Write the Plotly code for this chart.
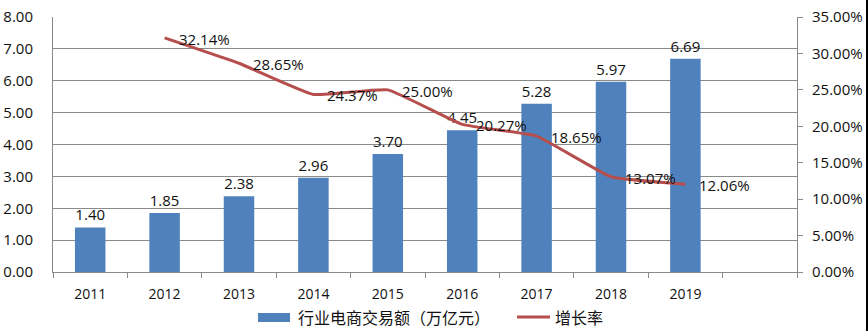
import plotly.graph_objects as go

# Yearly e-commerce transaction volume (trillion yuan) and growth rate (%)
years = ["2011", "2012", "2013", "2014", "2015", "2016", "2017", "2018", "2019"]
volume = [1.40, 1.85, 2.38, 2.96, 3.70, 4.45, 5.28, 5.97, 6.69]
growth_years = ["2012", "2013", "2014", "2015", "2016", "2017", "2018", "2019"]
growth = [32.14, 28.65, 24.37, 25.00, 20.27, 18.65, 13.07, 12.06]
axis_categories = years + [" "]

left_ticks = [0, 1, 2, 3, 4, 5, 6, 7, 8]
right_ticks = [0, 5, 10, 15, 20, 25, 30, 35]

bar_name = "行业电商交易额（万亿元）"
line_name = "增长率"

FONT = "Open Sans, Noto Sans CJK SC, sans-serif"
CJK = "Noto Sans CJK SC, sans-serif"
GRID = "#8a8a8a"
BAR_COLOR = "#4F81BD"
LINE_COLOR = "#B54E4C"

W, H = 868, 331
ML, MR, MT, MB = 53, 71, 17, 59
PW, PH = W - ML - MR, H - MT - MB


def px_x(x):
    return (x - ML) / PW


def px_y(y):
    return (H - MB - y) / PH


fig = go.Figure()

fig.add_trace(go.Bar(
    x=years, y=volume,
    name=bar_name,
    marker=dict(color=BAR_COLOR, line=dict(width=0)),
    width=0.41,
    text=[f"{v:.2f}" for v in volume],
    textposition="outside",
    textfont=dict(size=15, color="#111111", family=FONT),
    cliponaxis=False,
    showlegend=False,
))

fig.add_trace(go.Scatter(
    x=growth_years, y=growth,
    name=line_name,
    yaxis="y2",
    mode="lines",
    line=dict(color=LINE_COLOR, width=3, shape="spline", smoothing=0.35),
    cliponaxis=False,
    showlegend=False,
))

# growth-rate labels sit to the right of each point (x given as category index)
for yr, g in zip(growth_years, growth):
    fig.add_annotation(
        x=axis_categories.index(yr), y=g, xref="x", yref="y2",
        text=f"{g:.2f}%", showarrow=False,
        xanchor="left", yanchor="middle", xshift=12, yshift=-1,
        font=dict(size=15, color="#111111", family=FONT),
    )

fig.update_layout(
    width=W, height=H,
    margin=dict(l=ML, r=MR, t=MT, b=MB, autoexpand=False),
    paper_bgcolor="white",
    plot_bgcolor="white",
    font=dict(family=FONT, color="#111111"),
    showlegend=False,
    xaxis=dict(
        type="category",
        categoryorder="array",
        categoryarray=axis_categories,
        range=[-0.5, 9.5],
        tickson="boundaries",
        ticks="outside",
        ticklen=5,
        tickcolor=GRID,
        ticklabelstandoff=9,
        showline=True,
        linecolor=GRID,
        linewidth=1,
        showgrid=False,
        tickfont=dict(size=14, family=FONT, color="#111111"),
        fixedrange=True,
    ),
    yaxis=dict(
        range=[0, 8],
        tickvals=left_ticks,
        ticktext=[f"{v:.2f}" for v in left_ticks],
        showgrid=True,
        gridcolor=GRID,
        gridwidth=1,
        showline=True,
        linecolor=GRID,
        linewidth=1,
        zeroline=False,
        ticks="",
        ticklabelstandoff=16,
        tickfont=dict(size=15, family=FONT, color="#111111"),
        fixedrange=True,
    ),
    yaxis2=dict(
        overlaying="y",
        side="right",
        range=[0, 35],
        tickvals=right_ticks,
        ticktext=[f"{v:.2f}%" for v in right_ticks],
        showgrid=False,
        showline=True,
        linecolor=GRID,
        linewidth=1,
        zeroline=False,
        ticks="outside",
        ticklen=5,
        tickcolor=GRID,
        ticklabelstandoff=6,
        tickfont=dict(size=15, family=FONT, color="#111111"),
        fixedrange=True,
    ),
)

# legend drawn below the plot: wide bar swatch and line swatch
fig.add_shape(type="rect", xref="paper", yref="paper",
              x0=px_x(258), x1=px_x(290), y0=px_y(322), y1=px_y(313),
              fillcolor=BAR_COLOR, line=dict(width=0))
fig.add_annotation(xref="paper", yref="paper", x=px_x(296), y=px_y(317),
                   text=bar_name, showarrow=False, xanchor="left", yanchor="middle",
                   font=dict(size=16, family=CJK, color="#111111"))
fig.add_shape(type="line", xref="paper", yref="paper",
              x0=px_x(517), x1=px_x(550), y0=px_y(317), y1=px_y(317),
              line=dict(color=LINE_COLOR, width=3))
fig.add_annotation(xref="paper", yref="paper", x=px_x(553), y=px_y(317),
                   text=line_name, showarrow=False, xanchor="left", yanchor="middle",
                   font=dict(size=16, family=CJK, color="#111111"))

# dark strip along the right edge of the frame
fig.add_shape(type="rect", xref="paper", yref="paper",
              x0=px_x(866), x1=px_x(870), y0=px_y(H + 1), y1=px_y(-1),
              fillcolor="black", line=dict(width=0), layer="above")

fig.write_html("out.html")
